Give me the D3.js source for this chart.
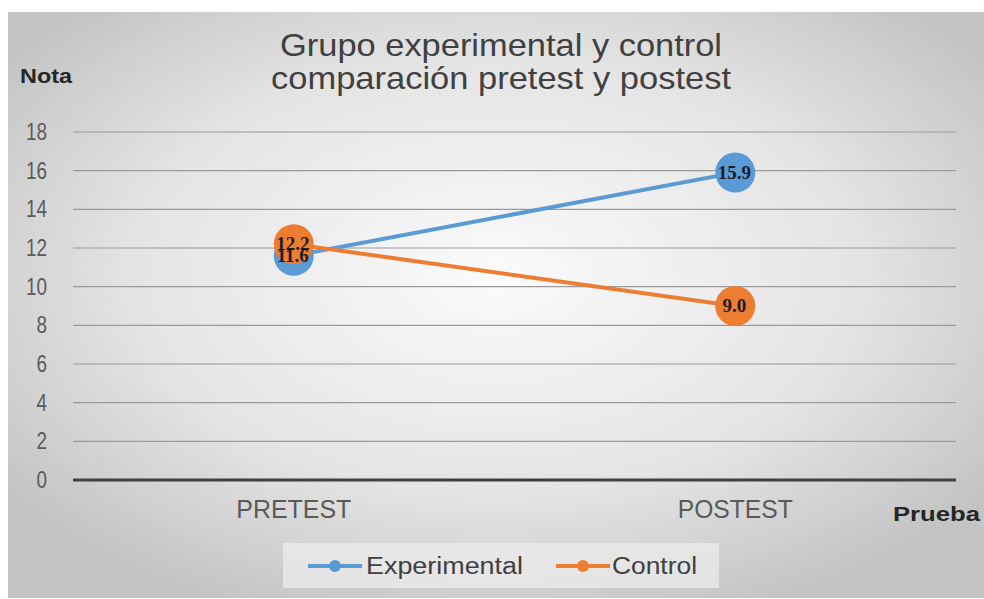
<!DOCTYPE html>
<html><head><meta charset="utf-8">
<script src="https://cdn.jsdelivr.net/npm/d3@7"></script>
<style>body{margin:0;background:#fff}svg{display:block}</style>
</head><body>
<svg id="c" width="984" height="599"></svg>
<script>
const categories = ["PRETEST", "POSTEST"];
const experimental = [11.6, 15.9];
const control = [12.2, 9.0];
const seriesNames = ["Experimental", "Control"];
const yTicks = [0, 2, 4, 6, 8, 10, 12, 14, 16, 18];
const titleLines = ["Grupo experimental  y control", "comparación pretest y postest"];

const svg = d3.select("#c");
const defs = svg.append("defs");
const rg = defs.append("radialGradient").attr("id","bg").attr("cx","50%").attr("cy","45%").attr("r","62%");
rg.append("stop").attr("offset","0%").attr("stop-color","#fbfbfb");
rg.append("stop").attr("offset","60%").attr("stop-color","#e4e4e4");
rg.append("stop").attr("offset","100%").attr("stop-color","#c4c4c4");
svg.append("rect").attr("x",8).attr("y",12).attr("width",976).attr("height",586).attr("fill","url(#bg)");

const x = d3.scaleBand().domain(categories).range([73, 956]);
const y = d3.scaleLinear().domain([0, 18]).range([480, 132]);
const cx = d => x(d) + x.bandwidth()/2;
const SANS = "Liberation Sans, Arial, sans-serif";
function condense(sel, f){ sel.each(function(){ const w=this.getComputedTextLength(); d3.select(this).attr("textLength", w*f).attr("lengthAdjust","spacingAndGlyphs"); }); }

// grid
svg.append("g").selectAll("line").data(yTicks.filter(t=>t>0)).join("line")
  .attr("x1",73).attr("x2",956).attr("y1",d=>y(d)).attr("y2",d=>y(d))
  .attr("stroke","#9a9a9a").attr("stroke-width",1.2);
svg.append("line").attr("x1",73).attr("x2",956).attr("y1",y(0)).attr("y2",y(0))
  .attr("stroke","#404040").attr("stroke-width",3);

// y axis labels
const yAxis = d3.axisLeft(y).tickValues(yTicks).tickSize(0).tickPadding(0);
const ya = svg.append("g").attr("transform","translate(47,0)").call(yAxis);
ya.select(".domain").remove();
ya.selectAll("text").attr("font-family",SANS).attr("font-size",23).attr("fill","#5a5a5a");
condense(ya.selectAll("text"), 0.82);

// x axis labels
const xAxis = d3.axisBottom(x).tickSize(0).tickPadding(0);
const xa = svg.append("g").attr("transform","translate(0,500)").call(xAxis);
xa.select(".domain").remove();
xa.selectAll("text").attr("font-family",SANS).attr("font-size",25).attr("fill","#5a5a5a")
  .attr("textLength",115).attr("lengthAdjust","spacingAndGlyphs");

// title
svg.append("g").selectAll("text").data(titleLines).join("text")
  .attr("x",501).attr("y",(d,i)=>56+i*33).attr("text-anchor","middle")
  .attr("font-family",SANS).attr("font-size",32)
  .attr("fill","#404040").attr("textLength",(d,i)=>i===0?442:460).attr("lengthAdjust","spacingAndGlyphs")
  .text(d=>d);

// axis titles
svg.append("text").attr("x",20).attr("y",83).attr("font-family",SANS)
  .attr("font-weight","bold").attr("font-size",21).attr("fill","#262626")
  .attr("textLength",52).attr("lengthAdjust","spacingAndGlyphs").text("Nota");
svg.append("text").attr("x",893).attr("y",521).attr("font-family",SANS)
  .attr("font-weight","bold").attr("font-size",21).attr("fill","#262626")
  .attr("textLength",87).attr("lengthAdjust","spacingAndGlyphs").text("Prueba");

const series = [
  {name: seriesNames[0], values: experimental, color: "#5b9bd5"},
  {name: seriesNames[1], values: control, color: "#ed7d31"}
];
const line = d3.line().x((d,i)=>cx(categories[i])).y(d=>y(d));
series.forEach(s=>{
  svg.append("path").attr("d",line(s.values)).attr("fill","none").attr("stroke",s.color).attr("stroke-width",4);
});
series.forEach(s=>{
  svg.append("g").selectAll("circle").data(s.values).join("circle")
    .attr("cx",(d,i)=>cx(categories[i])).attr("cy",d=>y(d)).attr("r",20).attr("fill",s.color);
});
series.forEach(s=>{
  svg.append("g").selectAll("text").data(s.values).join("text")
    .attr("x",(d,i)=>cx(categories[i])-1).attr("y",d=>y(d)+6).attr("text-anchor","middle")
    .attr("font-family","Liberation Serif, Times New Roman, serif").attr("font-weight","bold")
    .attr("font-size",19).attr("fill","#1c1c2a").text(d=>d.toFixed(1));
});

// legend
const lg = svg.append("g");
lg.append("rect").attr("x",283).attr("y",543).attr("width",436).attr("height",45).attr("fill","#eeeeee").attr("opacity",0.7);
const items = [{x:308, tx:366, w:157}, {x:556, tx:612, w:85}];
series.forEach((s,i)=>{
  const it = items[i];
  lg.append("line").attr("x1",it.x).attr("x2",it.x+54).attr("y1",566).attr("y2",566).attr("stroke",s.color).attr("stroke-width",4);
  lg.append("circle").attr("cx",it.x+27).attr("cy",566).attr("r",6).attr("fill",s.color);
  lg.append("text").attr("x",it.tx).attr("y",574).attr("font-family",SANS)
    .attr("font-size",23).attr("fill","#404040")
    .attr("textLength",it.w).attr("lengthAdjust","spacingAndGlyphs").text(s.name);
});
</script>
</body></html>
